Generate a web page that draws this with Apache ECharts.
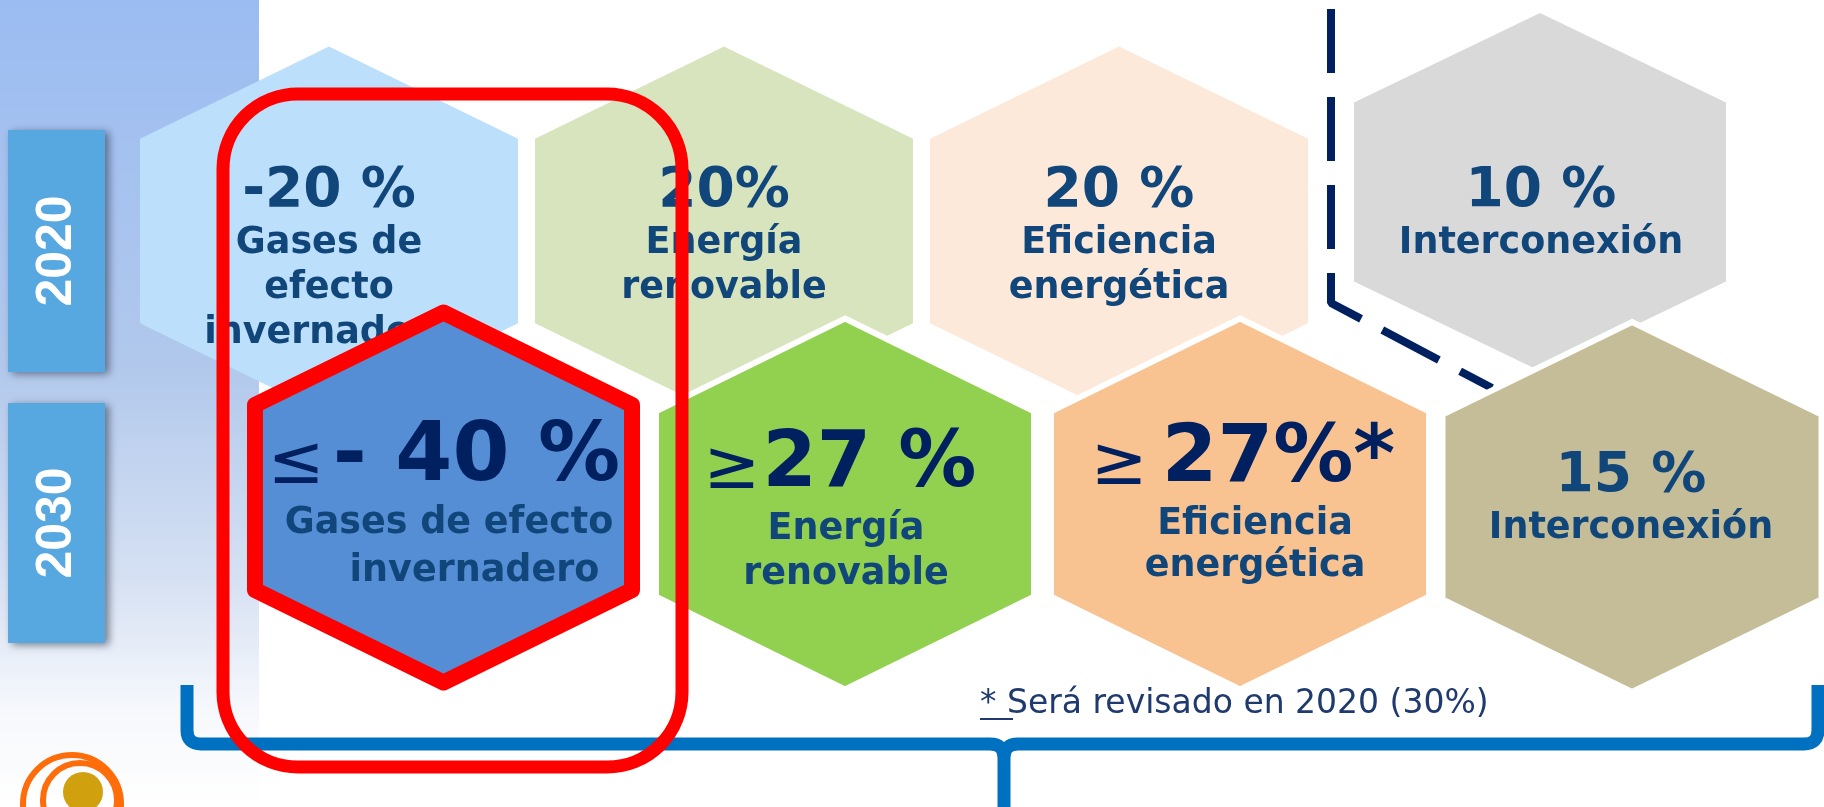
<!DOCTYPE html>
<html>
<head>
<meta charset="utf-8">
<script src="https://cdn.jsdelivr.net/npm/echarts@6/dist/echarts.min.js"></script>
<style>
  html, body { margin: 0; padding: 0; background: #ffffff; }
  #main { width: 1824px; height: 807px; }
</style>
</head>
<body>
<div id="main"></div>
<script>
// data
const years = ['2020', '2030'];
const categories2020 = ['Gases de\nefecto\ninvernadero', 'Energía\nrenovable', 'Eficiencia\nenergética', 'Interconexión'];
const categories2030 = ['Gases de efecto\n    invernadero', 'Energía\nrenovable', 'Eficiencia\nenergética', 'Interconexión'];
const targets2020 = ['-20 %', '20%', '20 %', '10 %'];
const targets2030 = ['- 40 %', '27 %', '27%*', '15 %'];
const signs2030 = ['≤', '≥', '≥', ''];
const footnote = 'Será revisado en 2020 (30%)';

// layout (axes run in page pixels)
const centers2020 = [[329, 231], [724, 231], [1119, 231], [1540, 192]];
const sizes2020 = [[378, 369], [378, 369], [378, 369], [372, 358]];
const centers2030 = [[443.5, 497.5], [845, 504], [1240, 504], [1632, 507]];
const sizes2030 = [[377, 370], [378, 371], [378, 371], [379, 370]];
const valuePos2020 = [[329, 209], [724, 209], [1119, 209], [1541, 209]];
const labelPos2020 = [[329, 255], [724, 255], [1119, 255], [1541, 255]];
const valuePos2030 = [[444, 484], [840, 490], [1243, 485], [1631, 494]];
const labelPos2030 = [[449, 535], [846, 541], [1255, 536], [1631, 540]];
const lineGap2030 = [48, 45, 42, 45];
const valueSize2030 = [82, 78, 80, 55];
const signGap2030 = [8, 2, 14, 0];
const dashPath = [[1331, 9], [1331, 303], [1492, 388]];
// brace: left end, left corner, tip, right corner, right end
const bracePath = [[187, 685], [187, 744], [1004, 744], [1004, 807], [1818, 744], [1818, 685]];

const fill2020 = ['#bcdffb', '#d7e4bd', '#fce9da', '#d9d9d9'];
const fill2030 = ['#558ed5', '#92d050', '#f9c291', '#c4bd97'];
const labelColor = '#10467a';
const numColor = '#002060';
const FONT = 'DejaVu Sans';
const MID = 0.31; // baseline offset of a middle-aligned line, in em

function hexPoints(c, s) {
  const a = s[0] / 2, b = s[1] / 2, t = b / 2;
  return [[c[0], c[1] - b], [c[0] + a, c[1] - b + t], [c[0] + a, c[1] + b - t],
          [c[0], c[1] + b], [c[0] - a, c[1] + b - t], [c[0] - a, c[1] - b + t]];
}

function textLines(api, pos, text, size, gap, color) {
  return text.split('\n').map((line, k) => {
    const p = api.coord([pos[0], pos[1] + k * gap]);
    return {
      type: 'text', x: p[0], y: p[1] - MID * size,
      style: { text: line, fill: color, font: 'bold ' + size + 'px "' + FONT + '"', align: 'center', verticalAlign: 'middle' }
    };
  });
}

function render2020(params, api) {
  const i = params.dataIndex;
  const c = api.coord([api.value(0), api.value(1)]);
  const s = api.size([api.value(2), api.value(3)]);
  const vp = api.coord(valuePos2020[i]);
  const children = [{
    type: 'polygon', shape: { points: hexPoints(c, s) }, style: { fill: fill2020[i] }
  }, {
    type: 'text', x: vp[0], y: vp[1] - MID * 55,
    style: { text: targets2020[i], fill: labelColor, font: 'bold 55px "' + FONT + '"', align: 'center', verticalAlign: 'middle' }
  }];
  return { type: 'group', children: children.concat(textLines(api, labelPos2020[i], categories2020[i], 36.5, 45, labelColor)) };
}

function render2030(params, api) {
  const i = params.dataIndex;
  const c = api.coord([api.value(0), api.value(1)]);
  const s = api.size([api.value(2), api.value(3)]);
  const vp = api.coord(valuePos2030[i]);
  const fs = valueSize2030[i];
  const big = i < 3;
  const hexStyle = i === 0
    ? { fill: fill2030[i], stroke: '#ff0000', lineWidth: 16, lineJoin: 'round' }
    : { fill: fill2030[i], stroke: '#ffffff', lineWidth: 6 };
  const sign = signs2030[i];
  const valueText = sign ? '{s|' + sign + '}{g|}{v|' + targets2030[i] + '}' : '{v|' + targets2030[i] + '}';
  const children = [{
    type: 'polygon', shape: { points: hexPoints(c, s) }, style: hexStyle
  }, {
    type: 'text', x: vp[0], y: vp[1] - MID * fs,
    style: {
      text: valueText, align: 'center', verticalAlign: 'middle',
      rich: {
        s: { fill: numColor, fontFamily: FONT, fontWeight: 'normal', fontSize: 68, verticalAlign: 'bottom' },
        g: { width: signGap2030[i], fontSize: fs },
        v: { fill: big ? numColor : labelColor, fontFamily: FONT, fontWeight: 'bold', fontSize: fs }
      }
    }
  }];
  return { type: 'group', children: children.concat(textLines(api, labelPos2030[i], categories2030[i], 36.5, lineGap2030[i], labelColor)) };
}

function renderBrace(params, api) {
  const p = bracePath.map(q => api.coord(q));
  const r = 14;
  const d = 'M' + p[0][0] + ',' + p[0][1] +
    ' L' + p[1][0] + ',' + (p[1][1] - r) +
    ' Q' + p[1][0] + ',' + p[1][1] + ' ' + (p[1][0] + r) + ',' + p[1][1] +
    ' L' + (p[2][0] - r) + ',' + p[2][1] +
    ' Q' + p[2][0] + ',' + p[2][1] + ' ' + p[2][0] + ',' + (p[2][1] + r) +
    ' L' + p[3][0] + ',' + (p[3][1] + 5) +
    ' M' + p[2][0] + ',' + (p[2][1] + r) +
    ' Q' + p[2][0] + ',' + p[2][1] + ' ' + (p[2][0] + r) + ',' + p[2][1] +
    ' L' + (p[4][0] - r) + ',' + p[4][1] +
    ' Q' + p[4][0] + ',' + p[4][1] + ' ' + p[4][0] + ',' + (p[4][1] - r) +
    ' L' + p[5][0] + ',' + p[5][1];
  return { type: 'path', shape: { pathData: d }, style: { stroke: '#0070c0', lineWidth: 13, fill: null } };
}

const chart = echarts.init(document.getElementById('main'), null, { renderer: 'canvas' });

const option = {
  animation: false,
  backgroundColor: '#ffffff',
  grid: { left: 0, right: 0, top: 0, bottom: 0 },
  xAxis: { type: 'value', min: 0, max: 1824, show: false },
  yAxis: { type: 'value', min: 0, max: 807, inverse: true, show: false },
  graphic: [
    {
      type: 'rect', z: -10, shape: { x: 0, y: 0, width: 259, height: 807 },
      style: {
        fill: new echarts.graphic.LinearGradient(0, 0, 0, 1, [
          { offset: 0, color: '#9bbcf2' },
          { offset: 0.45, color: '#b1c8ec' },
          { offset: 0.72, color: '#d6e1f3' },
          { offset: 0.88, color: '#f6f8fc' },
          { offset: 1, color: '#ffffff' }
        ])
      }
    },
    ...years.map((y, k) => ({
      type: 'group', z: -5, children: [
        {
          type: 'rect', shape: { x: 8, y: k === 0 ? 130 : 403, width: 97, height: k === 0 ? 242 : 240 },
          style: { fill: '#57a8e1', shadowBlur: 8, shadowOffsetX: 4, shadowOffsetY: 2, shadowColor: 'rgba(40,50,70,0.6)' }
        },
        {
          type: 'text', x: 57, y: k === 0 ? 251 : 523, rotation: Math.PI / 2,
          style: { text: y, fill: '#ffffff', font: 'bold 50px "Liberation Sans"', align: 'center', verticalAlign: 'middle' }
        }
      ]
    })),
    {
      type: 'text', z: 50, x: 980, y: 715 - MID * 33,
      style: { text: '* ' + footnote, fill: '#1f3a6e', font: '33px "' + FONT + '"', align: 'left', verticalAlign: 'middle' }
    },
    {
      type: 'rect', z: 50, shape: { x: 980, y: 718, width: 33, height: 2 }, style: { fill: '#1f3a6e' }
    },
    {
      type: 'rect', z: 60, shape: { x: 223, y: 94, width: 459, height: 673, r: 75 },
      style: { fill: null, stroke: '#ff0000', lineWidth: 13 }
    },
    {
      type: 'group', z: 50, children: [
        { type: 'circle', shape: { cx: 72, cy: 804, r: 49 }, style: { fill: null, stroke: '#ff6d0a', lineWidth: 6 } },
        { type: 'circle', shape: { cx: 80, cy: 800, r: 37 }, style: { fill: null, stroke: '#ff6d0a', lineWidth: 6 } },
        { type: 'circle', shape: { cx: 83, cy: 792, r: 20 }, style: { fill: '#d0a00e' } }
      ]
    }
  ],
  series: [
    {
      type: 'custom', z: 2, renderItem: render2020,
      data: centers2020.map((c, i) => [c[0], c[1], sizes2020[i][0], sizes2020[i][1]])
    },
    {
      type: 'line', z: 3, data: dashPath, symbol: 'none', silent: true,
      lineStyle: { color: '#002060', width: 8, type: [64, 24], cap: 'butt' }
    },
    {
      type: 'custom', z: 4, renderItem: render2030,
      data: centers2030.map((c, i) => [c[0], c[1], sizes2030[i][0], sizes2030[i][1]])
    },
    {
      type: 'custom', z: 5, renderItem: renderBrace, silent: true,
      data: [[bracePath[0][0], bracePath[0][1]]]
    }
  ]
};

chart.setOption(option);
</script>
</body>
</html>
